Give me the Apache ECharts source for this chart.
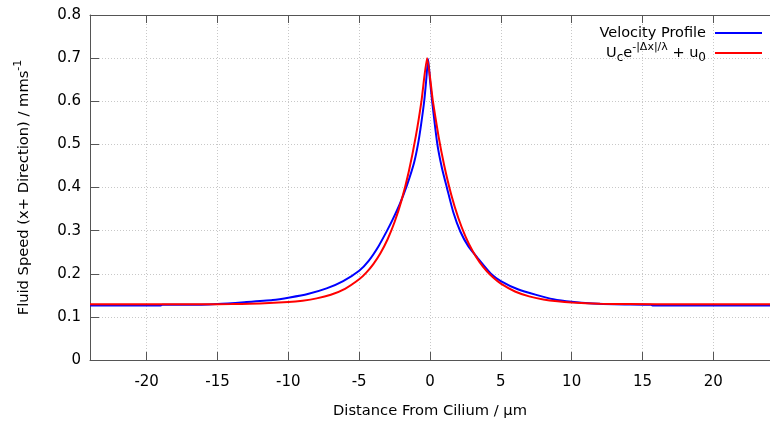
<!DOCTYPE html>
<html>
<head>
<meta charset="utf-8">
<script src="https://cdn.jsdelivr.net/npm/echarts@6/dist/echarts.min.js"></script>
<style>
html,body{margin:0;padding:0;background:#fff;}
#chart{width:770px;height:424px;}
</style>
</head>
<body>
<div id="chart"></div>
<script>
// x tick labels
var xTicks = [-20, -15, -10, -5, 0, 5, 10, 15, 20];
// Velocity profile (blue), x positions and speeds
var profileX = [-24, -19, -18.9, -17, -15, -13.1, -11.1, -9.9, -8.63, -7.3, -6.13, -5, -4.33, -3.63, -3.03, -2.63, -2.13, -1.63, -1.13, -0.85, -0.63, -0.41, -0.28, -0.13, 0.0, 0.15, 0.52, 0.85, 1.19, 1.65, 2.14, 2.7, 3.35, 4.3, 5, 6.2, 7.5, 8.7, 10, 11.5, 13, 15.6, 15.7, 24];
var profileY = [0.1265, 0.1265, 0.128, 0.128, 0.130, 0.134, 0.139, 0.145, 0.153, 0.166, 0.183, 0.207, 0.230, 0.264, 0.300, 0.326, 0.362, 0.405, 0.457, 0.500, 0.546, 0.600, 0.644, 0.698, 0.649, 0.600, 0.500, 0.444, 0.400, 0.342, 0.298, 0.264, 0.237, 0.200, 0.183, 0.164, 0.151, 0.141, 0.135, 0.131, 0.129, 0.128, 0.1265, 0.1265];
// Exponential fit (red), x positions and speeds
var fitX = [-24, -20, -16, -14, -12, -10, -9, -8, -7, -6, -5, -4.5, -4, -3.5, -3, -2.5, -2, -1.5, -1, -0.6, -0.2, 0.2, 0.6, 1, 1.5, 2, 2.5, 3, 3.5, 4, 4.5, 5, 6, 7, 8, 9, 10, 12, 14, 18, 24];
var fitY = [0.129, 0.129, 0.1293, 0.1298, 0.131, 0.1344, 0.1376, 0.1429, 0.1514, 0.1651, 0.1871, 0.2027, 0.2225, 0.2477, 0.2795, 0.320, 0.3713, 0.4365, 0.5191, 0.601, 0.700, 0.601, 0.519, 0.4516, 0.3831, 0.3293, 0.2869, 0.2534, 0.227, 0.2063, 0.1899, 0.177, 0.1588, 0.1475, 0.1405, 0.1361, 0.1334, 0.1306, 0.1298, 0.129, 0.129];

var profileName = 'Velocity Profile';
var fitName = 'Uce-|Δx|/λ + u0';

function zip(xs, ys){ var out=[]; for(var i=0;i<xs.length;i++) out.push([xs[i], ys[i]]); return out; }

var FONT = 'DejaVu Sans';
var FS = 15;
var axisColor = '#555';

var chart = echarts.init(document.getElementById('chart'), null, {renderer:'canvas'});
var legendBase = {
  orient: 'vertical', right: 8, align: 'right', icon: 'rect',
  itemWidth: 47, itemHeight: 2, padding: 0,
  textStyle: {fontFamily: FONT, fontSize: 14.5, color: '#000', padding: [0, 4, 0, 0], lineHeight: 20,
    rich: {
      b: {fontFamily: FONT, fontSize: 14.5, color: '#000', lineHeight: 22},
      sub: {fontFamily: FONT, fontSize: 12, color: '#000', lineHeight: 12, verticalAlign: 'bottom'},
      sup: {fontFamily: FONT, fontSize: 11, color: '#000', lineHeight: 12, verticalAlign: 'top'}
    }
  },
  formatter: function(name){
    if (name === fitName) return '{b|U}{sub|c}{b|e}{sup|-|Δx|/λ}{b| + u}{sub|0}';
    return name;
  }
};
var option = {
  animation: false,
  backgroundColor: '#fff',
  grid: {left: 90, right: -10, top: 15, bottom: 64, containLabel: false},
  legend: [
    Object.assign({}, legendBase, {top: 23, data: [profileName]}),
    Object.assign({}, legendBase, {top: 42, data: [fitName]})
  ],
  xAxis: [{
    type: 'value', min: -24, max: 24, position: 'bottom',
    name: 'Distance From Cilium / μm', nameLocation: 'middle', nameGap: 44,
    nameTextStyle: {fontFamily: FONT, fontSize: 14.7, color: '#000'},
    axisLine: {show: true, onZero: false, lineStyle: {color: axisColor, width: 1}},
    axisTick: {show: true, inside: true, length: 8, customValues: xTicks, lineStyle: {color: axisColor}},
    axisLabel: {show: true, customValues: xTicks, margin: 15, fontFamily: FONT, fontSize: FS, color: '#000'},
    splitLine: {show: true, lineStyle: {color: '#c8c8c8', type: [1, 2], width: 1}}
  }, {
    type: 'value', min: -24, max: 24, position: 'top',
    axisLine: {show: true, onZero: false, lineStyle: {color: axisColor, width: 1}},
    axisTick: {show: true, inside: true, length: 8, customValues: xTicks, lineStyle: {color: axisColor}},
    axisLabel: {show: false},
    splitLine: {show: false}
  }],
  yAxis: {
    type: 'value', min: 0, max: 0.8, interval: 0.1,
    name: '{a|Fluid Speed (x+ Direction) / mms}{s|-1}', nameLocation: 'middle', nameGap: 55,
    nameTextStyle: {fontFamily: FONT, fontSize: 14.7, color: '#000',
      rich: {a: {fontFamily: FONT, fontSize: 14.7, color: '#000', lineHeight: 22},
             s: {fontFamily: FONT, fontSize: 11, color: '#000', lineHeight: 12, verticalAlign: 'top'}}},
    axisLine: {show: true, onZero: false, lineStyle: {color: axisColor, width: 1}},
    axisTick: {show: true, inside: true, length: 9, lineStyle: {color: axisColor}},
    axisLabel: {margin: 9, fontFamily: FONT, fontSize: FS, color: '#000',
      formatter: function(v){ return String(Math.round(v*10)/10); }},
    splitLine: {show: true, lineStyle: {color: '#c8c8c8', type: [1, 2], width: 1}}
  },
  series: [{
    name: profileName, type: 'line', data: zip(profileX, profileY), showSymbol: false, symbol: 'none',
    smooth: 0.2, lineStyle: {color: '#0000ff', width: 2}, itemStyle: {color: '#0000ff'}
  }, {
    name: fitName, type: 'line', data: zip(fitX, fitY), showSymbol: false, symbol: 'none',
    smooth: 0.2, lineStyle: {color: '#ff0000', width: 2}, itemStyle: {color: '#ff0000'}
  }]
};
chart.setOption(option);
</script>
</body>
</html>
